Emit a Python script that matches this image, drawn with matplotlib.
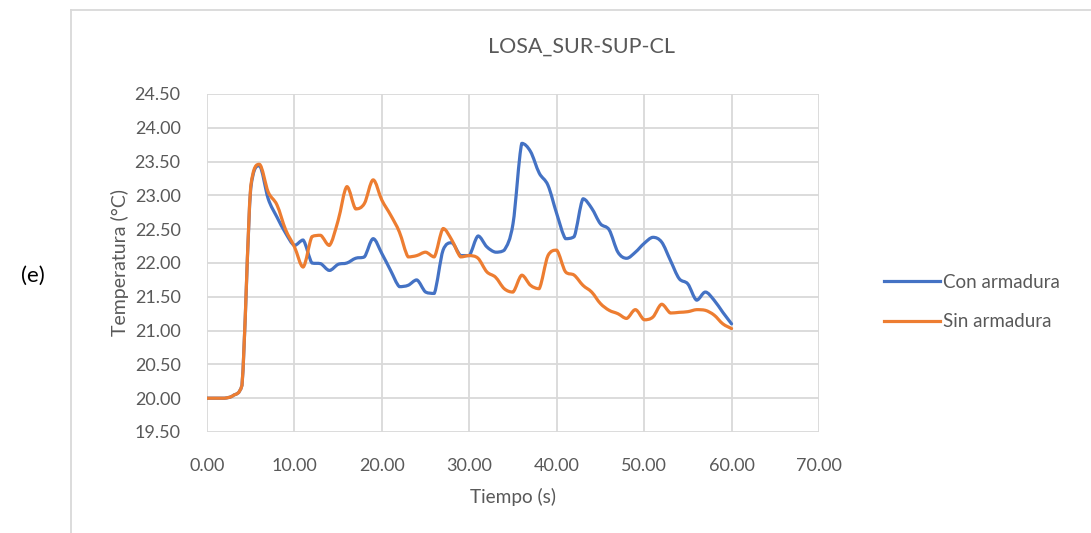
import numpy as np
import matplotlib.pyplot as plt
from matplotlib.path import Path
from matplotlib.patches import PathPatch
from matplotlib.lines import Line2D

plt.rcParams['font.family'] = ['Lato', 'DejaVu Sans']

# time (s) and temperature (°C) for both slabs
tiempo = list(range(0, 61))
con_armadura = [20.00, 20.00, 20.00, 20.04, 20.19, 23.10, 23.44, 22.95, 22.68, 22.44,
                22.26, 22.34, 22.00, 21.99, 21.89, 21.98, 22.00, 22.07, 22.09, 22.36,
                22.14, 21.89, 21.65, 21.67, 21.75, 21.57, 21.55, 22.19, 22.30, 22.11,
                22.11, 22.40, 22.24, 22.16, 22.19, 22.58, 23.77, 23.65, 23.33, 23.15,
                22.73, 22.36, 22.39, 22.95, 22.81, 22.58, 22.49, 22.16, 22.07, 22.16,
                22.29, 22.38, 22.31, 22.04, 21.77, 21.69, 21.45, 21.57, 21.45, 21.27,
                21.10]
sin_armadura = [20.00, 20.00, 20.00, 20.04, 20.19, 23.13, 23.46, 23.05, 22.86, 22.49,
                22.24, 21.94, 22.39, 22.41, 22.26, 22.63, 23.13, 22.80, 22.88, 23.23,
                22.93, 22.71, 22.46, 22.09, 22.11, 22.16, 22.09, 22.51, 22.34, 22.09,
                22.11, 22.07, 21.87, 21.79, 21.62, 21.57, 21.82, 21.67, 21.62, 22.11,
                22.19, 21.87, 21.82, 21.67, 21.57, 21.40, 21.30, 21.25, 21.18, 21.31,
                21.16, 21.20, 21.39, 21.26, 21.27, 21.28, 21.31, 21.30, 21.23, 21.10,
                21.03]

series = [('Con armadura', con_armadura, '#4472C4'),
          ('Sin armadura', sin_armadura, '#ED7D31')]

x_ticks = np.arange(0, 71, 10)
y_ticks = np.arange(19.5, 24.51, 0.5)
text_color = '#595959'
grid_color = '#d9d9d9'


def smooth_path(x, y):
    # bezier through every point, control points kept inside each segment's range
    pts = np.column_stack([x, y]).astype(float)
    n = len(pts)
    verts = [pts[0]]
    codes = [Path.MOVETO]
    for i in range(n - 1):
        p0 = pts[max(i - 1, 0)]
        p1 = pts[i]
        p2 = pts[i + 1]
        p3 = pts[min(i + 2, n - 1)]
        c1 = p1 + (p2 - p0) / 6.0
        c2 = p2 - (p3 - p1) / 6.0
        lo, hi = min(p1[1], p2[1]), max(p1[1], p2[1])
        c1[1] = np.clip(c1[1], lo, hi)
        c2[1] = np.clip(c2[1], lo, hi)
        verts += [c1, c2, p2]
        codes += [Path.CURVE4] * 3
    return Path(verts, codes)


fig = plt.figure(figsize=(10.91, 5.33), dpi=100)
ax = fig.add_axes([207 / 1091, 1 - 432 / 533, 612 / 1091, 338 / 533])

for name, vals, color in series:
    patch = PathPatch(smooth_path(tiempo, vals), facecolor='none', edgecolor=color,
                      lw=2.3, capstyle='round', joinstyle='round', zorder=3)
    ax.add_patch(patch)

ax.set_xlim(0, 70)
ax.set_ylim(19.5, 24.5)
ax.set_xticks(x_ticks)
ax.set_yticks(y_ticks)
ax.set_xticklabels(['%.2f' % v for v in x_ticks])
ax.set_yticklabels(['%.2f' % v for v in y_ticks])
ax.tick_params(length=0, labelsize=13, colors=text_color)
ax.tick_params(axis='y', pad=19)
ax.tick_params(axis='x', pad=19)
ax.grid(True, color=grid_color, lw=1.3)
ax.set_axisbelow(True)
for s in ax.spines.values():
    s.set_visible(False)

ax.set_xlabel('Tiempo (s)', fontsize=13.7, color=text_color, labelpad=10)
ax.set_ylabel('Temperatura (°C)', fontsize=14, color=text_color, labelpad=4)

fig.text(582 / 1091, 1 - 47 / 533, 'LOSA_SUR-SUP-CL', fontsize=15.5, color=text_color,
         ha='center', va='center')
fig.text(33 / 1091, 1 - 276 / 533, '(e)', fontsize=16, color='black',
         ha='center', va='center')

# chart area border (top and left edges)
fig.add_artist(Line2D([71 / 1091, 71 / 1091], [0, 1 - 10 / 533], color=grid_color, lw=1.3))
fig.add_artist(Line2D([71 / 1091, 1], [1 - 10 / 533, 1 - 10 / 533], color=grid_color, lw=1.3))

handles = [Line2D([], [], color=c, lw=2.3) for _, _, c in series]
labels = [n for n, _, _ in series]
leg = fig.legend(handles, labels, loc='center left', bbox_to_anchor=(867 / 1091, 1 - 302 / 533),
                 frameon=False, fontsize=13.5, handlelength=3.0, handletextpad=0.15,
                 labelspacing=1.2)
for t in leg.get_texts():
    t.set_color(text_color)

fig.savefig('out.png', dpi=100)
